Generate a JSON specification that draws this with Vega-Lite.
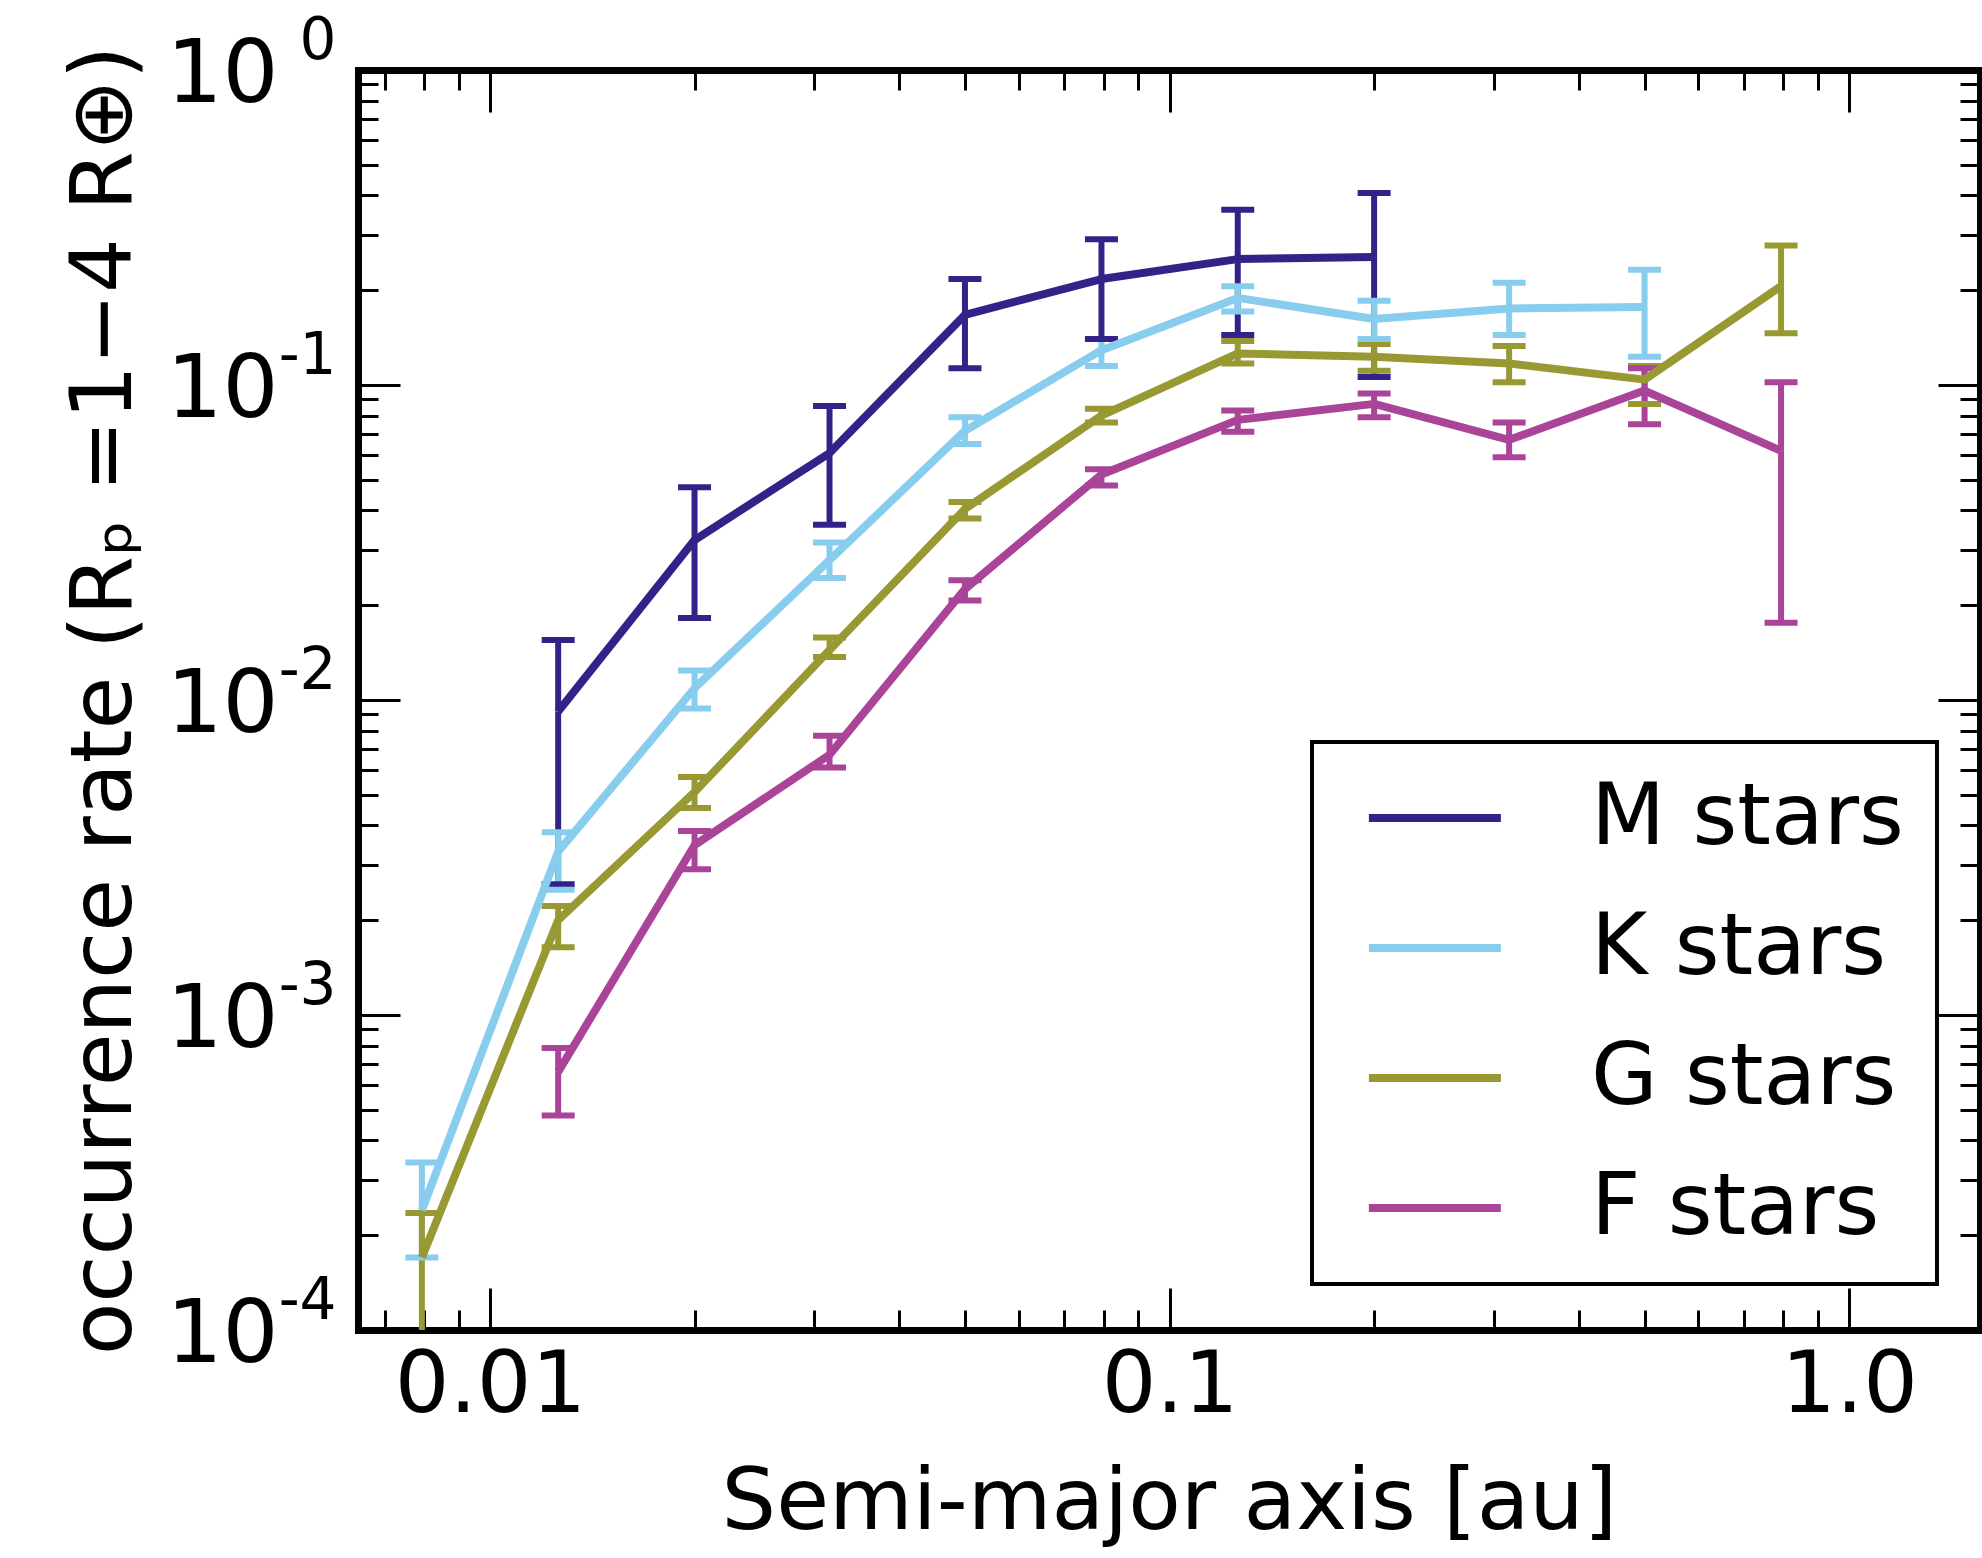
{
  "$schema": "https://vega.github.io/schema/vega-lite/v6.json",
  "width": 1622,
  "height": 1260,
  "autosize": "none",
  "padding": {"left": 358, "top": 70, "right": 2, "bottom": 228},
  "background": "white",
  "config": {
    "font": "DejaVu Sans",
    "view": {"stroke": null},
    "axis": {
      "domainColor": "black", "domainWidth": 7, "domainCap": "square",
      "tickColor": "black", "tickWidth": 3,
      "grid": false,
      "labelFont": "DejaVu Sans", "labelFontSize": 86, "labelColor": "black",
      "labelOverlap": false, "labelFlush": false, "labelLimit": 0,
      "titleFont": "DejaVu Sans", "titleFontSize": 86, "titleFontWeight": "normal", "titleColor": "black"
    },
    "legend": {"strokeWidth": 4}
  },
  "data": {
    "values": [
      {"series": "M stars", "a": 0.0126, "v": 0.0092, "lo": 0.0026, "hi": 0.0155},
      {"series": "M stars", "a": 0.02, "v": 0.0322, "lo": 0.0182, "hi": 0.0474},
      {"series": "M stars", "a": 0.0316, "v": 0.0608, "lo": 0.036, "hi": 0.0857},
      {"series": "M stars", "a": 0.05, "v": 0.167, "lo": 0.113, "hi": 0.217},
      {"series": "M stars", "a": 0.0794, "v": 0.217, "lo": 0.14, "hi": 0.29},
      {"series": "M stars", "a": 0.126, "v": 0.251, "lo": 0.144, "hi": 0.36},
      {"series": "M stars", "a": 0.2, "v": 0.255, "lo": 0.106, "hi": 0.407},
      {"series": "K stars", "a": 0.00794, "v": 0.00024, "lo": 0.00017, "hi": 0.00034},
      {"series": "K stars", "a": 0.0126, "v": 0.0033, "lo": 0.0025, "hi": 0.0038},
      {"series": "K stars", "a": 0.02, "v": 0.0109, "lo": 0.0094, "hi": 0.0124},
      {"series": "K stars", "a": 0.0316, "v": 0.0278, "lo": 0.0244, "hi": 0.0316},
      {"series": "K stars", "a": 0.05, "v": 0.0716, "lo": 0.065, "hi": 0.079},
      {"series": "K stars", "a": 0.0794, "v": 0.129, "lo": 0.115, "hi": 0.14},
      {"series": "K stars", "a": 0.126, "v": 0.189, "lo": 0.171, "hi": 0.206},
      {"series": "K stars", "a": 0.2, "v": 0.162, "lo": 0.14, "hi": 0.185},
      {"series": "K stars", "a": 0.316, "v": 0.175, "lo": 0.144, "hi": 0.211},
      {"series": "K stars", "a": 0.5, "v": 0.177, "lo": 0.123, "hi": 0.232},
      {"series": "G stars", "a": 0.00794, "v": 0.00017, "lo": 0.00004, "hi": 0.000235},
      {"series": "G stars", "a": 0.0126, "v": 0.002, "lo": 0.00164, "hi": 0.00222},
      {"series": "G stars", "a": 0.02, "v": 0.0051, "lo": 0.00454, "hi": 0.0057},
      {"series": "G stars", "a": 0.0316, "v": 0.0144, "lo": 0.0137, "hi": 0.0158},
      {"series": "G stars", "a": 0.05, "v": 0.0404, "lo": 0.0377, "hi": 0.0425},
      {"series": "G stars", "a": 0.0794, "v": 0.08, "lo": 0.076, "hi": 0.084},
      {"series": "G stars", "a": 0.126, "v": 0.126, "lo": 0.117, "hi": 0.138},
      {"series": "G stars", "a": 0.2, "v": 0.123, "lo": 0.111, "hi": 0.135},
      {"series": "G stars", "a": 0.316, "v": 0.117, "lo": 0.102, "hi": 0.133},
      {"series": "G stars", "a": 0.5, "v": 0.104, "lo": 0.087, "hi": 0.115},
      {"series": "G stars", "a": 0.794, "v": 0.206, "lo": 0.146, "hi": 0.277},
      {"series": "F stars", "a": 0.0126, "v": 0.00066, "lo": 0.00048, "hi": 0.000785},
      {"series": "F stars", "a": 0.02, "v": 0.00346, "lo": 0.0029, "hi": 0.00384},
      {"series": "F stars", "a": 0.0316, "v": 0.0067, "lo": 0.0061, "hi": 0.0077},
      {"series": "F stars", "a": 0.05, "v": 0.0225, "lo": 0.0207, "hi": 0.024},
      {"series": "F stars", "a": 0.0794, "v": 0.052, "lo": 0.048, "hi": 0.054},
      {"series": "F stars", "a": 0.126, "v": 0.0775, "lo": 0.071, "hi": 0.083},
      {"series": "F stars", "a": 0.2, "v": 0.0871, "lo": 0.079, "hi": 0.094},
      {"series": "F stars", "a": 0.316, "v": 0.067, "lo": 0.059, "hi": 0.076},
      {"series": "F stars", "a": 0.5, "v": 0.096, "lo": 0.075, "hi": 0.113},
      {"series": "F stars", "a": 0.794, "v": 0.0618, "lo": 0.0176, "hi": 0.102}
    ]
  },
  "layer": [
    {
      "mark": {"type": "rule", "strokeWidth": 6, "clip": true},
      "encoding": {
        "x": {
          "field": "a", "type": "quantitative",
          "scale": {"type": "log", "domain": [0.006395, 1.558], "nice": false},
          "axis": {
            "orient": "bottom",
            "values": [0.01, 0.1, 1],
            "tickSize": -42,
            "labelExpr": "abs(datum.value-0.01)<1e-9 ? '0.01' : abs(datum.value-0.1)<1e-9 ? '0.1' : '1.0'",
            "labelPadding": 55,
            "title": "Semi-major axis [au]",
            "titlePadding": 32
          }
        },
        "y": {
          "field": "lo", "type": "quantitative",
          "scale": {"type": "log", "domain": [0.0001, 1], "nice": false},
          "axis": {
            "orient": "left",
            "values": [0.0001, 0.001, 0.01, 0.1, 1],
            "tickSize": -42,
            "labelExpr": "'10'",
            "labelFontSize": 88,
            "labelPadding": 122,
            "labelOffset": 5,
            "title": "occurrence rate (Rₚ =1−4 R⊕)",
            "titlePadding": 18
          }
        },
        "y2": {"field": "v"},
        "color": {
          "field": "series", "type": "nominal",
          "scale": {"domain": ["M stars", "K stars", "G stars", "F stars"], "range": ["#332288", "#88CCEE", "#999933", "#AA4499"]},
          "legend": {
            "orient": "none", "legendX": 954, "legendY": 672,
            "title": null,
            "symbolType": "M-0.58,0H3.42", "symbolSize": 4356, "symbolStrokeWidth": 8, "symbolOpacity": 1,
            "labelFont": "DejaVu Sans", "labelFontSize": 86, "labelColor": "black", "labelLimit": 0,
            "labelOffset": 160,
            "strokeColor": "black", "fillColor": "white",
            "padding": 33, "rowPadding": 44
          }
        }
      }
    },
    {
      "mark": {"type": "rule", "strokeWidth": 6, "clip": true},
      "encoding": {
        "x": {
          "field": "a", "type": "quantitative",
          "axis": {
            "orient": "bottom", "labels": false, "title": null, "tickSize": -20,
            "values": [0.007, 0.008, 0.009, 0.02, 0.03, 0.04, 0.05, 0.06, 0.07, 0.08, 0.09, 0.2, 0.3, 0.4, 0.5, 0.6, 0.7, 0.8, 0.9]
          }
        },
        "y": {
          "field": "v", "type": "quantitative",
          "axis": {
            "orient": "left", "title": null, "ticks": false, "domain": false, "tickSize": 0,
            "values": [0.0001, 0.001, 0.01, 0.1, 1],
            "labelExpr": "abs(datum.value-1)<1e-9 ? '0' : abs(datum.value-0.1)<1e-9 ? '-1' : abs(datum.value-0.01)<1e-9 ? '-2' : abs(datum.value-0.001)<1e-9 ? '-3' : '-4'",
            "labelFontSize": 58,
            "labelPadding": 22,
            "labelOffset": -29
          }
        },
        "y2": {"field": "hi"},
        "color": {"field": "series", "type": "nominal"}
      }
    },
    {
      "mark": {"type": "tick", "orient": "horizontal", "size": 33, "thickness": 6, "opacity": 1, "clip": true},
      "encoding": {
        "x": {
          "field": "a", "type": "quantitative",
          "axis": {"orient": "top", "labels": false, "title": null, "tickSize": -42, "values": [0.01, 0.1, 1]}
        },
        "y": {
          "field": "hi", "type": "quantitative",
          "axis": {
            "orient": "left", "labels": false, "title": null, "tickSize": -20,
            "values": [0.0002, 0.0003, 0.0004, 0.0005, 0.0006, 0.0007, 0.0008, 0.0009, 0.002, 0.003, 0.004, 0.005, 0.006, 0.007, 0.008, 0.009, 0.02, 0.03, 0.04, 0.05, 0.06, 0.07, 0.08, 0.09, 0.2, 0.3, 0.4, 0.5, 0.6, 0.7, 0.8, 0.9]
          }
        },
        "color": {"field": "series", "type": "nominal"}
      }
    },
    {
      "mark": {"type": "tick", "orient": "horizontal", "size": 33, "thickness": 6, "opacity": 1, "clip": true},
      "encoding": {
        "x": {
          "field": "a", "type": "quantitative",
          "axis": {
            "orient": "top", "labels": false, "title": null, "tickSize": -20,
            "values": [0.007, 0.008, 0.009, 0.02, 0.03, 0.04, 0.05, 0.06, 0.07, 0.08, 0.09, 0.2, 0.3, 0.4, 0.5, 0.6, 0.7, 0.8, 0.9]
          }
        },
        "y": {
          "field": "lo", "type": "quantitative",
          "axis": {"orient": "right", "labels": false, "title": null, "tickSize": -42, "values": [0.0001, 0.001, 0.01, 0.1, 1]}
        },
        "color": {"field": "series", "type": "nominal"}
      }
    },
    {
      "mark": {"type": "line", "strokeWidth": 8, "clip": true, "strokeJoin": "round"},
      "encoding": {
        "x": {"field": "a", "type": "quantitative", "axis": null},
        "y": {
          "field": "v", "type": "quantitative",
          "axis": {
            "orient": "right", "labels": false, "title": null, "tickSize": -20,
            "values": [0.0002, 0.0003, 0.0004, 0.0005, 0.0006, 0.0007, 0.0008, 0.0009, 0.002, 0.003, 0.004, 0.005, 0.006, 0.007, 0.008, 0.009, 0.02, 0.03, 0.04, 0.05, 0.06, 0.07, 0.08, 0.09, 0.2, 0.3, 0.4, 0.5, 0.6, 0.7, 0.8, 0.9]
          }
        },
        "color": {"field": "series", "type": "nominal"}
      }
    }
  ],
  "resolve": {"axis": {"x": "independent", "y": "independent"}}
}
